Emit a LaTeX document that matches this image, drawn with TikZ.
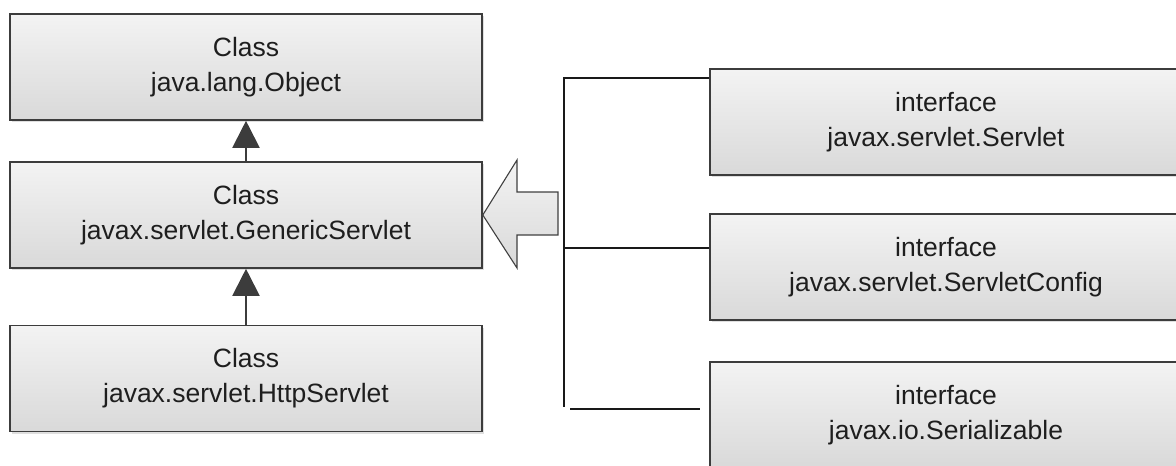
\documentclass[tikz,border=0pt]{standalone}
\usepackage{fontspec}
\setmainfont{Liberation Sans}
\usetikzlibrary{arrows.meta,shadows}
\definecolor{boxline}{HTML}{3C3C3C}
\definecolor{boxtop}{HTML}{F3F3F3}
\definecolor{boxbot}{HTML}{D9D9D9}
\definecolor{txt}{HTML}{1E1E1E}
\begin{document}
\begin{tikzpicture}[x=1pt,y=-1pt,
  umlbox/.style={draw=boxline, line width=1.6pt, top color=boxtop, bottom color=boxbot,
    minimum width=472pt, minimum height=106pt, align=center, inner sep=0pt,
    font=\fontsize{26.5}{35}\selectfont, text=txt,
    drop shadow={shadow xshift=2pt, shadow yshift=-2pt, opacity=0.25}},
  inherit/.style={draw=boxline, line width=2pt, -{Triangle[length=27pt,width=27pt]}},
  bracket/.style={draw=black!90, line width=1.5pt},
  bigarrow/.style={draw=black!75, line width=1.1pt, top color=boxtop, bottom color=boxbot}
]
\useasboundingbox (0,0) rectangle (1176,466);
\node[umlbox] (obj) at (246,67)  {Class\\java.lang.Object};
\node[umlbox] (gen) at (246,215) {Class\\javax.servlet.GenericServlet};
\node[umlbox] (http) at (246,378.5) {Class\\javax.servlet.HttpServlet};
\node[umlbox] (sv) at (946,122) {interface\\javax.servlet.Servlet};
\node[umlbox] (sc) at (946,267) {interface\\javax.servlet.ServletConfig};
\node[umlbox] (ser) at (946,415) {interface\\javax.io.Serializable};

\draw[inherit] (gen.north) -- (obj.south);
\draw[inherit] (http.north) -- (gen.south);

\coordinate (tip) at (gen.east);
\path[bigarrow] (tip) -- (517,160) -- (517,192) -- (558,192) -- (558,235) -- (517,235) -- (517,268) -- cycle;

\coordinate (btop) at (564,78);
\coordinate (bmid) at (564,248);
\coordinate (bbot) at (564,407);
\coordinate (lowa) at (570,409);
\coordinate (lowb) at (700,409);
\draw[bracket] (btop -| sv.west) -- (btop) -- (bbot);
\draw[bracket] (bmid) -- (bmid -| sc.west);
\draw[bracket] (lowa) -- (lowb);
\end{tikzpicture}
\end{document}
